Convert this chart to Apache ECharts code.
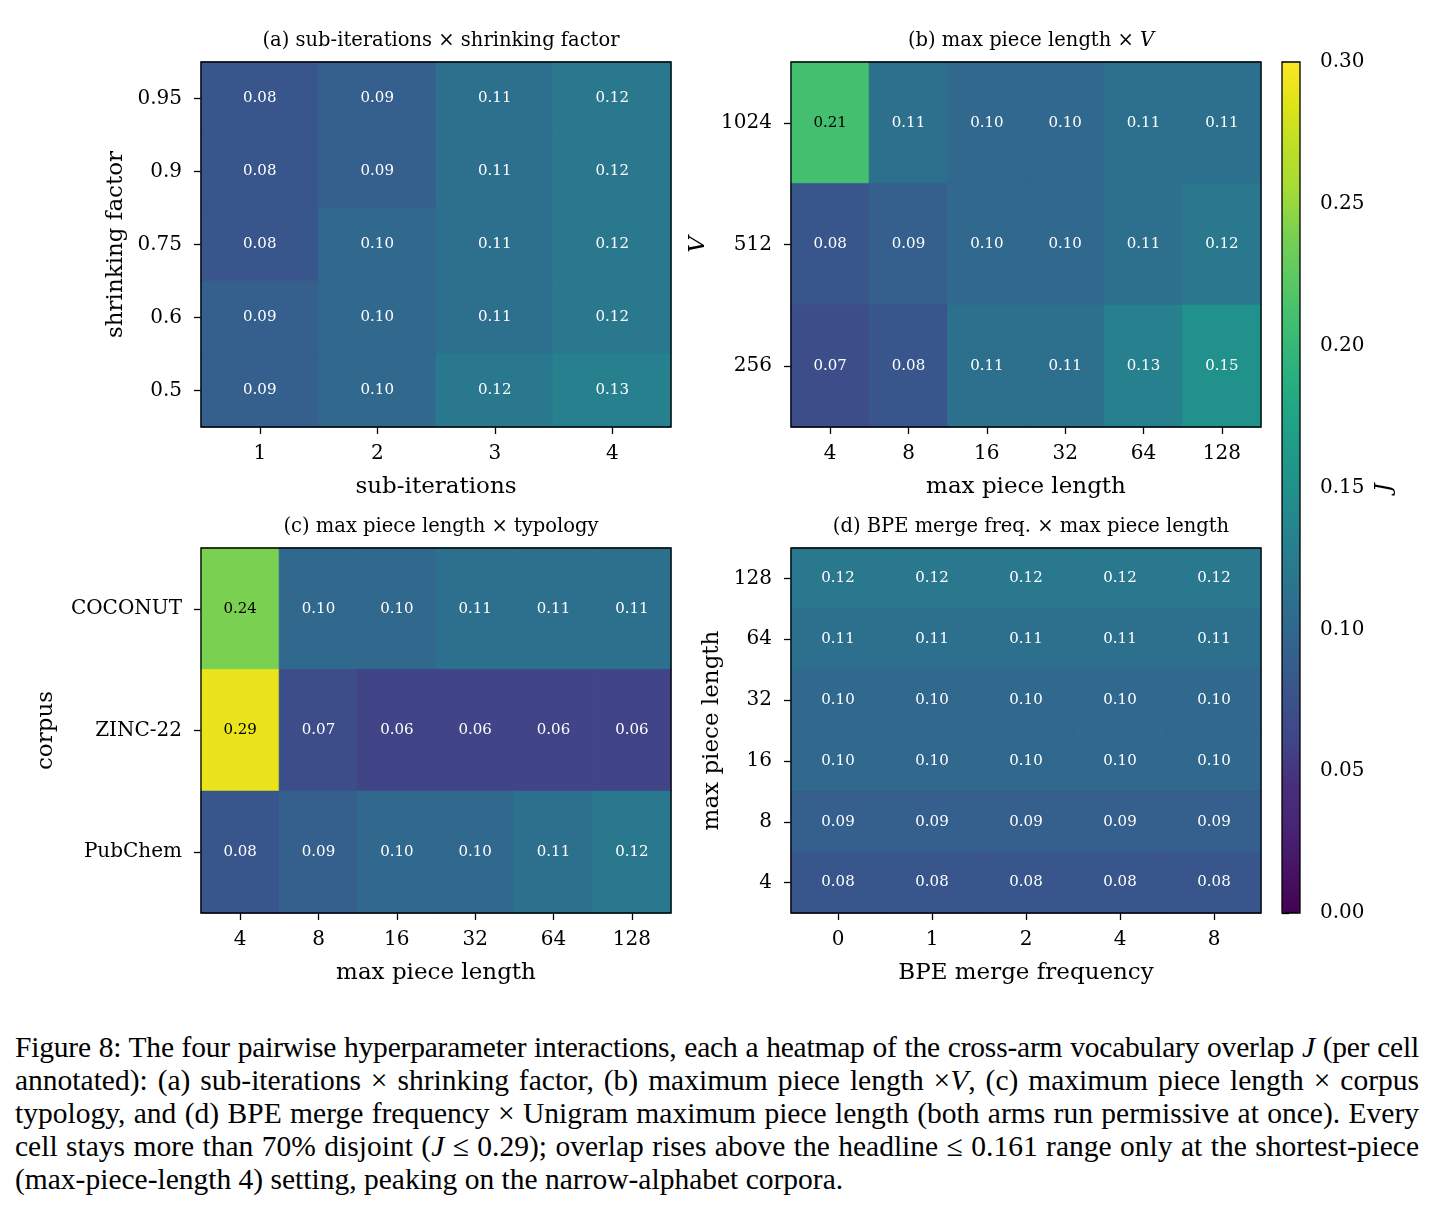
<!DOCTYPE html>
<html>
<head>
<meta charset="utf-8">
<script src="https://cdn.jsdelivr.net/npm/echarts@6/dist/echarts.min.js"></script>
<style>
  html, body { margin: 0; padding: 0; background: #fff; }
  #chart { position: absolute; left: 0; top: 0; width: 1437px; height: 1010px; }
  #caption { position: absolute; left: 15px; top: 1031px; width: 1404px;
    font-family: 'Liberation Serif', serif; font-size: 29.5px; line-height: 33px; color: #000; }
  #caption .j { text-align: justify; text-align-last: justify; white-space: nowrap; }
  #caption .t { letter-spacing: -0.2px; }
  #caption .l { text-align: left; white-space: nowrap; }
</style>
</head>
<body>
<div id="chart"></div>
<div id="caption">
  <div class="j t">Figure 8: The four pairwise hyperparameter interactions, each a heatmap of the cross-arm vocabulary overlap <i>J</i> (per cell</div>
  <div class="j">annotated): (a) sub-iterations × shrinking factor, (b) maximum piece length ×<i>V</i>, (c) maximum piece length × corpus</div>
  <div class="j">typology, and (d) BPE merge frequency × Unigram maximum piece length (both arms run permissive at once). Every</div>
  <div class="j">cell stays more than 70% disjoint (<i>J</i> ≤ 0.29); overlap rises above the headline ≤ 0.161 range only at the shortest-piece</div>
  <div class="l">(max-piece-length 4) setting, peaking on the narrow-alphabet corpora.</div>
</div>
<script>
// ---- data (rows listed top to bottom as displayed) ----
const aX = ['1', '2', '3', '4'];
const aY = ['0.95', '0.9', '0.75', '0.6', '0.5'];
const aVals = [
  [0.08, 0.09, 0.11, 0.12],
  [0.08, 0.09, 0.11, 0.12],
  [0.08, 0.10, 0.11, 0.12],
  [0.09, 0.10, 0.11, 0.12],
  [0.09, 0.10, 0.12, 0.13]
];
const bX = ['4', '8', '16', '32', '64', '128'];
const bY = ['1024', '512', '256'];
const bVals = [
  [0.21, 0.11, 0.10, 0.10, 0.11, 0.11],
  [0.08, 0.09, 0.10, 0.10, 0.11, 0.12],
  [0.07, 0.08, 0.11, 0.11, 0.13, 0.15]
];
const cX = ['4', '8', '16', '32', '64', '128'];
const cY = ['COCONUT', 'ZINC-22', 'PubChem'];
const cVals = [
  [0.24, 0.10, 0.10, 0.11, 0.11, 0.11],
  [0.29, 0.07, 0.06, 0.06, 0.06, 0.06],
  [0.08, 0.09, 0.10, 0.10, 0.11, 0.12]
];
const dX = ['0', '1', '2', '4', '8'];
const dY = ['128', '64', '32', '16', '8', '4'];
const dVals = [
  [0.12, 0.12, 0.12, 0.12, 0.12],
  [0.11, 0.11, 0.11, 0.11, 0.11],
  [0.10, 0.10, 0.10, 0.10, 0.10],
  [0.10, 0.10, 0.10, 0.10, 0.10],
  [0.09, 0.09, 0.09, 0.09, 0.09],
  [0.08, 0.08, 0.08, 0.08, 0.08]
];
const colorbarTicks = [0, 0.05, 0.10, 0.15, 0.20, 0.25, 0.30];

const panels = [
  { title: '(a) sub-iterations × shrinking factor', x: aX, y: aY, v: aVals, xName: 'sub-iterations', yName: 'shrinking factor', yGap: 73, yItalic: false },
  { title: '(b) max piece length × {i|V}', x: bX, y: bY, v: bVals, xName: 'max piece length', yName: 'V', yGap: 81, yItalic: true },
  { title: '(c) max piece length × typology', x: cX, y: cY, v: cVals, xName: 'max piece length', yName: 'corpus', yGap: 143, yItalic: false },
  { title: '(d) BPE merge freq. × max piece length', x: dX, y: dY, v: dVals, xName: 'BPE merge frequency', yName: 'max piece length', yGap: 67, yItalic: false }
];

const FONT = 'DejaVu Serif';
const gridPos = [
  { left: 201, top: 62 }, { left: 791, top: 62 },
  { left: 201, top: 548 }, { left: 791, top: 548 }
];
const GW = 470, GH = 365;
const VMIN = 0, VMAX = 0.30;

const viridis = ['#440154', '#471365', '#482475', '#472f7d', '#414487', '#3b528b', '#355f8d', '#2f6c8e', '#2a788e', '#25848e',
  '#21918c', '#1e9c89', '#22a884', '#2fb47c', '#44bf70', '#5ec962', '#7ad151', '#a5db36', '#bddf26', '#dfe318', '#fde725'];

// same linear interpolation the visualMap uses; only used to paint cell edges (avoid seams)
function cmap(v) {
  const t = Math.max(0, Math.min(1, (v - VMIN) / (VMAX - VMIN))) * (viridis.length - 1);
  const i = Math.min(viridis.length - 2, Math.floor(t)), f = t - i;
  const h = (s) => [1, 3, 5].map(k => parseInt(s.substr(k, 2), 16));
  const a = h(viridis[i]), b = h(viridis[i + 1]);
  return 'rgb(' + a.map((x, k) => Math.round(x + (b[k] - x) * f)).join(',') + ')';
}

const grids = [], xAxes = [], yAxes = [], series = [], titles = [];
panels.forEach((p, i) => {
  grids.push({ left: gridPos[i].left, top: gridPos[i].top, width: GW, height: GH, show: true,
    borderColor: '#000', borderWidth: 1.3, backgroundColor: 'transparent', z: 5, containLabel: false });
  xAxes.push({ type: 'category', gridIndex: i, data: p.x, position: 'bottom',
    axisLine: { show: false }, splitLine: { show: false },
    axisTick: { show: true, alignWithLabel: true, length: 7, lineStyle: { color: '#000', width: 1.3 } },
    axisLabel: { color: '#000', fontFamily: FONT, fontSize: 20, margin: 17 },
    name: p.xName, nameLocation: 'middle', nameGap: 49,
    nameTextStyle: { color: '#000', fontFamily: FONT, fontSize: 23 } });
  yAxes.push({ type: 'category', gridIndex: i, data: p.y, inverse: true,
    axisLine: { show: false }, splitLine: { show: false },
    axisTick: { show: true, alignWithLabel: true, length: 7, lineStyle: { color: '#000', width: 1.3 } },
    axisLabel: { color: '#000', fontFamily: FONT, fontSize: 20, margin: 19 },
    name: p.yName, nameLocation: 'middle', nameGap: p.yGap,
    nameTextStyle: { color: '#000', fontFamily: FONT, fontSize: 23, fontStyle: p.yItalic ? 'italic' : 'normal' } });
  const data = [];
  p.v.forEach((row, r) => row.forEach((val, c) => {
    data.push({ value: [c, r, val], label: { color: val > 0.18 ? '#000' : '#fff' },
      itemStyle: { borderColor: cmap(val), borderWidth: 0.6 } });
  }));
  series.push({ type: 'heatmap', xAxisIndex: i, yAxisIndex: i, data: data,
    label: { show: true, fontFamily: FONT, fontSize: 15,
      formatter: (d) => d.value[2].toFixed(2) },
    emphasis: { disabled: true } });
  titles.push({ text: p.title, left: gridPos[i].left + GW / 2, top: gridPos[i].top - 36, textAlign: 'center',
    textStyle: { fontFamily: FONT, fontSize: 19.5, fontWeight: 'normal', color: '#000',
      rich: { i: { fontFamily: FONT, fontSize: 19.5, fontStyle: 'italic', color: '#000' } } } });
});

// colorbar axis (grid index 4)
grids.push({ left: 1282, top: 62, width: 18, height: 851, show: true, borderColor: '#000', borderWidth: 1.3,
  backgroundColor: 'transparent', z: 5 });
xAxes.push({ type: 'value', gridIndex: 4, min: 0, max: 1, show: false });
yAxes.push({ type: 'value', gridIndex: 4, min: VMIN, max: VMAX, interval: 0.05, position: 'right',
  axisLine: { show: false }, splitLine: { show: false },
  axisTick: { show: true, length: 7, lineStyle: { color: '#000', width: 1.3 } },
  axisLabel: { color: '#000', fontFamily: FONT, fontSize: 20, margin: 20,
    formatter: (v) => {
      const m = colorbarTicks.find(t => Math.abs(t - v) < 1e-9);
      return m === undefined ? '' : m.toFixed(2);
    } },
  name: 'J', nameLocation: 'middle', nameGap: 73, nameRotate: 90,
  nameTextStyle: { color: '#000', fontFamily: FONT, fontSize: 22, fontStyle: 'italic' } });

const chart = echarts.init(document.getElementById('chart'), null, { renderer: 'canvas' });
chart.setOption({
  backgroundColor: '#fff',
  animation: false,
  title: titles,
  grid: grids,
  xAxis: xAxes,
  yAxis: yAxes,
  visualMap: {
    type: 'continuous', min: VMIN, max: VMAX, seriesIndex: [0, 1, 2, 3],
    left: 1282, top: 62, itemWidth: 18, itemHeight: 851, padding: 0,
    calculable: false, realtime: false, hoverLink: false, text: null, showLabel: false,
    inRange: { color: viridis }, textStyle: { color: 'transparent' }
  },
  series: series
});
</script>
</body>
</html>
